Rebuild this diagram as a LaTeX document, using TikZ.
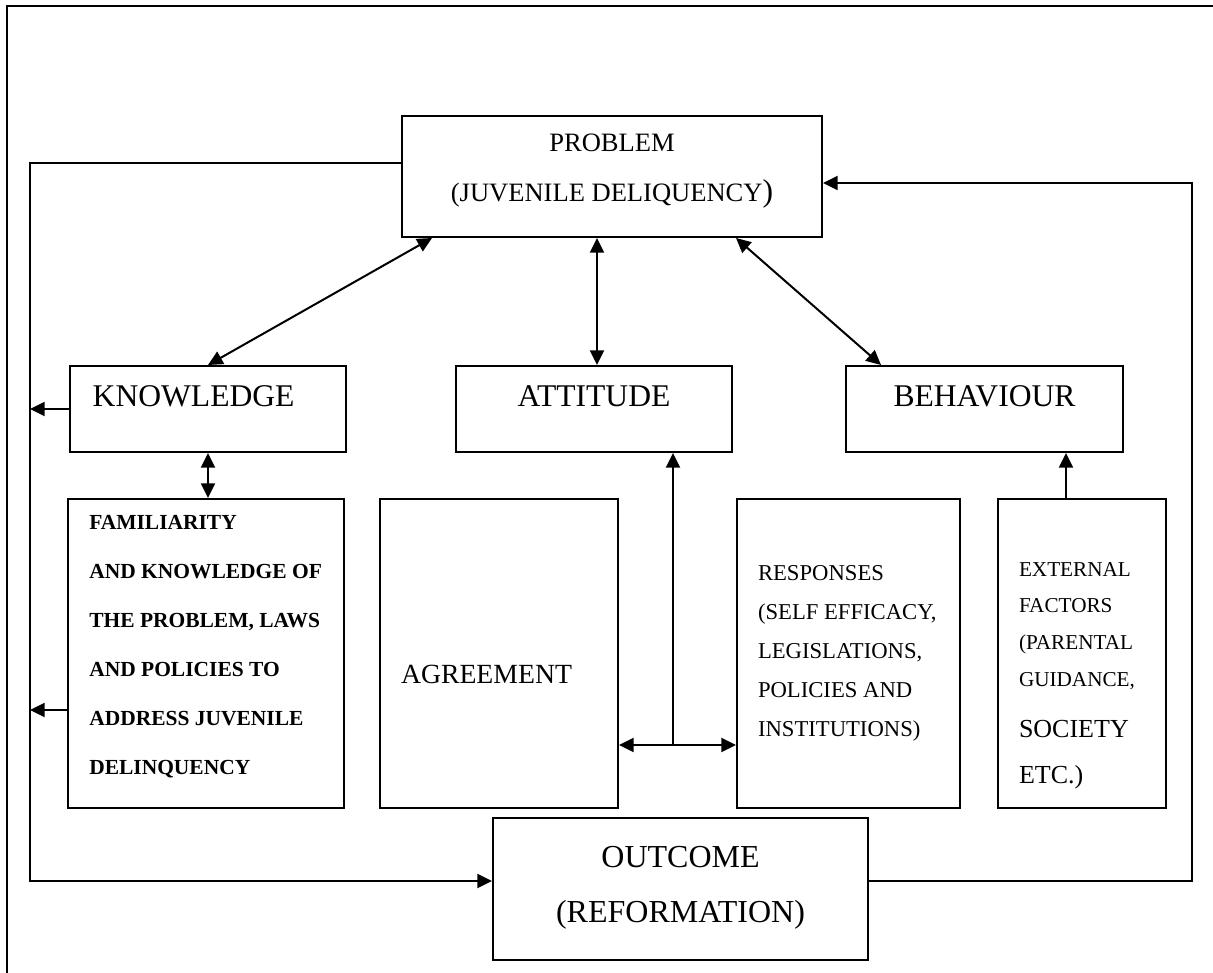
\documentclass[tikz,border=0pt]{standalone}
\usepackage{fontspec}
\setmainfont{Liberation Serif}
\usetikzlibrary{arrows.meta,calc}

\begin{document}
\begin{tikzpicture}[x=0.75pt,y=-0.75pt,line width=1.5pt,
    box/.style 2 args={draw, inner sep=0pt, minimum width=#1*0.75pt, minimum height=#2*0.75pt},
    txt/.style={inner sep=0pt},
    arr/.style={-{Triangle[length=11pt,width=10.5pt]}},
    darr/.style={{Triangle[length=11pt,width=10.5pt]}-{Triangle[length=11pt,width=10.5pt]}}]
            \useasboundingbox (0,0) rectangle (1213,973);
            \draw[line width=1.7pt] (7,973) -- (7,6) -- (1213,6);

            \node[box={420}{121}] (prob) at (612,176.5) {};
            \node[box={276}{86}] (know) at (208,409) {};
            \node[box={276}{86}] (att) at (594,409) {};
            \node[box={277}{86}] (beh) at (984.5,409) {};
            \node[box={276}{309}] (fam) at (206,653.5) {};
            \node[box={238}{309}] (agr) at (499,653.5) {};
            \node[box={223}{309}] (resp) at (848.5,653.5) {};
            \node[box={168}{309}] (ext) at (1082,653.5) {};
            \node[box={375}{142}] (out) at (680.5,889) {};

            \node[txt, anchor=base, align=center, font=\fontsize{19.9}{37.5}\selectfont] (prob-t) at (612,201.7) {PROBLEM\\(JUVENILE DELIQUENCY{\fontsize{23.7}{28}\selectfont )}};
            \node[txt, anchor=base west, font=\fontsize{23.7}{28}\selectfont] (know-t) at (91.7,406) {KNOWLEDGE};
            \node[txt, anchor=base, font=\fontsize{23.7}{28}\selectfont] (att-t) at (594,406) {ATTITUDE};
            \node[txt, anchor=base, font=\fontsize{23.7}{28}\selectfont] (beh-t) at (984.5,406) {BEHAVIOUR};
            \node[txt, anchor=base west, align=left, font=\bfseries\fontsize{16.1}{36.7}\selectfont] (fam-t) at (88.3,774) {FAMILIARITY\\AND KNOWLEDGE OF\\THE PROBLEM, LAWS\\AND POLICIES TO\\ADDRESS JUVENILE\\DELINQUENCY};
            \node[txt, anchor=base west, font=\fontsize{20.8}{25}\selectfont] (agr-t) at (400,683) {AGREEMENT};
            \node[txt, anchor=base west, align=left, font=\fontsize{17}{29.2}\selectfont] (resp-t) at (757,736.7) {RESPONSES\\(SELF EFFICACY,\\LEGISLATIONS,\\POLICIES AND\\INSTITUTIONS)};
            \node[txt, anchor=base west, align=left, font=\fontsize{15.9}{27.7}\selectfont] (ext-t) at (1018,783) {EXTERNAL\\FACTORS\\(PARENTAL\\GUIDANCE,\\[10pt]{\fontsize{19.5}{24}\selectfont SOCIETY}\\[6.75pt]{\fontsize{19.5}{24}\selectfont ETC.)}};
            \node[txt, anchor=base, align=center, font=\fontsize{24}{41.25}\selectfont] (out-t) at (680.5,922) {OUTCOME\\(REFORMATION)};

            \coordinate (lbus) at (30,0);
            \coordinate (rbus) at (1192,0);
            \coordinate (pl) at ($(prob.west)+(0,-13.5)$);
            \coordinate (pr) at ($(prob.east)+(0,6.5)$);
            \coordinate (ol) at ($(out.west)+(0,-8)$);
            \coordinate (or) at ($(out.east)+(0,-8)$);
            \coordinate (fl) at ($(fam.west)+(0,56.5)$);
            \coordinate (eu) at ($(ext.north)+(-16,0)$);
            \coordinate (au) at ($(att.north)+(3,0)$);
            \coordinate (jn) at ($(att.south)+(79,292)$);

            \draw[darr] ($(prob.south west)+(31,0)$) -- (know.north);
            \draw[darr] (au) -- (au |- prob.south);
            \draw[darr] ($(prob.south east)+(-87,0)$) -- ($(beh.north west)+(36,0)$);
            \draw[darr] (know.south) -- (know.south |- fam.north);
            \draw[arr] (eu) -- (eu |- beh.south);
            \draw[arr] (jn) -- (jn |- att.south);
            \draw[darr] (jn -| agr.east) -- (jn -| resp.west);

            \draw[arr] (know.west) -- (know.west -| lbus);
            \draw[arr] (fl) -- (fl -| lbus);
            \draw[arr] (pl) -| (lbus |- ol) -- (ol);
            \draw[arr] (or) -| (rbus |- pr) -- (pr);
        \end{tikzpicture}
\end{document}
